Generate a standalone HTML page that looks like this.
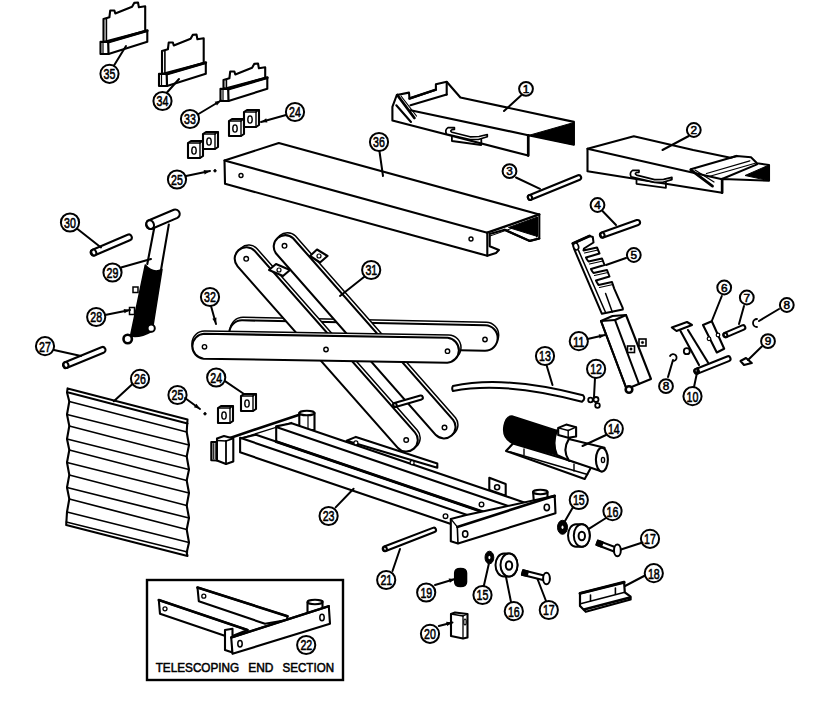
<!DOCTYPE html>
<html><head><meta charset="utf-8"><style>
html,body{margin:0;padding:0;background:#fff;}
svg{display:block;} text{-webkit-font-smoothing:antialiased;}
</style></head><body>
<svg width="831" height="716" viewBox="0 0 831 716">
<rect width="831" height="716" fill="#fff"/>
<polygon points="103.5,42.0 103.5,19.0 109.4,17.3 110.2,10.5 114.4,10.5 115.3,13.5 132.1,6.7 134.2,2.9 138.0,2.5 138.9,7.2 145.2,6.3 145.2,31.0" fill="white" stroke="#000" stroke-width="2.1" stroke-linejoin="round" />
<line x1="106.4" y1="19.0" x2="106.4" y2="42.0" stroke="#000" stroke-width="1.6" stroke-linecap="round"/>
<polygon points="100.5,41.7 108.0,42.0 147.3,30.7 147.3,41.7 108.5,54.0 100.5,54.0" fill="white" stroke="#000" stroke-width="2.1" stroke-linejoin="round" />
<line x1="108.0" y1="42.1" x2="147.3" y2="30.7" stroke="#000" stroke-width="2.8" stroke-linecap="round"/>
<line x1="108.2" y1="42.0" x2="108.5" y2="54.0" stroke="#000" stroke-width="2.2" stroke-linecap="round"/>
<line x1="103.0" y1="43.0" x2="103.0" y2="53.0" stroke="#000" stroke-width="1.2" stroke-linecap="round"/>
<polygon points="162.0,74.0 162.0,51.0 167.9,49.3 168.7,42.5 172.9,42.5 173.8,45.5 190.6,38.7 192.7,34.9 196.5,34.5 197.4,39.2 203.7,38.3 203.7,63.0" fill="white" stroke="#000" stroke-width="2.1" stroke-linejoin="round" />
<line x1="164.9" y1="51.0" x2="164.9" y2="74.0" stroke="#000" stroke-width="1.6" stroke-linecap="round"/>
<polygon points="159.0,73.7 166.5,74.0 205.8,62.7 205.8,73.7 167.0,86.0 159.0,86.0" fill="white" stroke="#000" stroke-width="2.1" stroke-linejoin="round" />
<line x1="166.5" y1="74.1" x2="205.8" y2="62.7" stroke="#000" stroke-width="2.8" stroke-linecap="round"/>
<line x1="166.7" y1="74.0" x2="167.0" y2="86.0" stroke="#000" stroke-width="2.2" stroke-linecap="round"/>
<line x1="161.5" y1="75.0" x2="161.5" y2="85.0" stroke="#000" stroke-width="1.2" stroke-linecap="round"/>
<polygon points="223.5,89.0 223.5,80.0 229.4,78.3 230.2,71.5 234.4,71.5 235.3,74.5 252.1,67.7 254.2,63.9 258.0,63.5 258.9,68.2 265.2,67.3 265.2,78.0" fill="white" stroke="#000" stroke-width="2.1" stroke-linejoin="round" />
<line x1="226.4" y1="80.0" x2="226.4" y2="89.0" stroke="#000" stroke-width="1.6" stroke-linecap="round"/>
<polygon points="220.5,88.7 228.0,89.0 267.3,77.7 267.3,88.7 228.5,101.0 220.5,101.0" fill="white" stroke="#000" stroke-width="2.1" stroke-linejoin="round" />
<line x1="228.0" y1="89.1" x2="267.3" y2="77.7" stroke="#000" stroke-width="2.8" stroke-linecap="round"/>
<line x1="228.2" y1="89.0" x2="228.5" y2="101.0" stroke="#000" stroke-width="2.2" stroke-linecap="round"/>
<line x1="223.0" y1="90.0" x2="223.0" y2="100.0" stroke="#000" stroke-width="1.2" stroke-linecap="round"/>
<circle cx="109.5" cy="73.8" r="9.1" fill="white" stroke="#000" stroke-width="2"/>
<text x="103.6" y="79.0" textLength="11.8" lengthAdjust="spacingAndGlyphs" font-family="Liberation Sans" font-size="14.8" font-weight="normal" stroke="#000" stroke-width="0.6">35</text>
<line x1="114.0" y1="65.5" x2="126.0" y2="46.0" stroke="#000" stroke-width="2" stroke-linecap="round"/>
<circle cx="162.5" cy="101.0" r="9.1" fill="white" stroke="#000" stroke-width="2"/>
<text x="156.6" y="106.3" textLength="11.8" lengthAdjust="spacingAndGlyphs" font-family="Liberation Sans" font-size="14.8" font-weight="normal" stroke="#000" stroke-width="0.6">34</text>
<line x1="167.0" y1="92.5" x2="179.0" y2="79.0" stroke="#000" stroke-width="2" stroke-linecap="round"/>
<circle cx="190.0" cy="119.0" r="9.1" fill="white" stroke="#000" stroke-width="2"/>
<text x="184.1" y="124.3" textLength="11.8" lengthAdjust="spacingAndGlyphs" font-family="Liberation Sans" font-size="14.8" font-weight="normal" stroke="#000" stroke-width="0.6">33</text>
<line x1="198.5" y1="114.0" x2="221.0" y2="100.5" stroke="#000" stroke-width="2" stroke-linecap="round"/>
<polygon points="221.0,100.5 217.0,105.5 214.7,101.7" fill="#000"/>
<polygon points="229.0,121.0 232.0,119.0 244.0,119.0 244.0,134.0 241.0,136.0 229.0,136.0" fill="white" stroke="#000" stroke-width="2.1" stroke-linejoin="round" />
<line x1="241.0" y1="121.0" x2="241.0" y2="136.0" stroke="#000" stroke-width="1.4" stroke-linecap="round"/>
<line x1="229.0" y1="121.0" x2="241.0" y2="121.0" stroke="#000" stroke-width="1.4" stroke-linecap="round"/>
<line x1="241.0" y1="121.0" x2="244.0" y2="119.0" stroke="#000" stroke-width="1.4" stroke-linecap="round"/>
<ellipse cx="235.0" cy="128.5" rx="2.2" ry="3.6" fill="white" stroke="#000" stroke-width="1.4" transform="rotate(0 235.0 128.5)"/>
<polygon points="244.0,112.0 247.0,110.0 259.0,110.0 259.0,125.0 256.0,127.0 244.0,127.0" fill="white" stroke="#000" stroke-width="2.1" stroke-linejoin="round" />
<line x1="256.0" y1="112.0" x2="256.0" y2="127.0" stroke="#000" stroke-width="1.4" stroke-linecap="round"/>
<line x1="244.0" y1="112.0" x2="256.0" y2="112.0" stroke="#000" stroke-width="1.4" stroke-linecap="round"/>
<line x1="256.0" y1="112.0" x2="259.0" y2="110.0" stroke="#000" stroke-width="1.4" stroke-linecap="round"/>
<ellipse cx="250.0" cy="119.5" rx="2.2" ry="3.6" fill="white" stroke="#000" stroke-width="1.4" transform="rotate(0 250.0 119.5)"/>
<polygon points="188.0,143.0 191.0,141.0 203.0,141.0 203.0,156.0 200.0,158.0 188.0,158.0" fill="white" stroke="#000" stroke-width="2.1" stroke-linejoin="round" />
<line x1="200.0" y1="143.0" x2="200.0" y2="158.0" stroke="#000" stroke-width="1.4" stroke-linecap="round"/>
<line x1="188.0" y1="143.0" x2="200.0" y2="143.0" stroke="#000" stroke-width="1.4" stroke-linecap="round"/>
<line x1="200.0" y1="143.0" x2="203.0" y2="141.0" stroke="#000" stroke-width="1.4" stroke-linecap="round"/>
<ellipse cx="194.0" cy="150.5" rx="2.2" ry="3.6" fill="white" stroke="#000" stroke-width="1.4" transform="rotate(0 194.0 150.5)"/>
<polygon points="203.0,134.0 206.0,132.0 218.0,132.0 218.0,147.0 215.0,149.0 203.0,149.0" fill="white" stroke="#000" stroke-width="2.1" stroke-linejoin="round" />
<line x1="215.0" y1="134.0" x2="215.0" y2="149.0" stroke="#000" stroke-width="1.4" stroke-linecap="round"/>
<line x1="203.0" y1="134.0" x2="215.0" y2="134.0" stroke="#000" stroke-width="1.4" stroke-linecap="round"/>
<line x1="215.0" y1="134.0" x2="218.0" y2="132.0" stroke="#000" stroke-width="1.4" stroke-linecap="round"/>
<ellipse cx="209.0" cy="141.5" rx="2.2" ry="3.6" fill="white" stroke="#000" stroke-width="1.4" transform="rotate(0 209.0 141.5)"/>
<circle cx="295.0" cy="112.0" r="9.1" fill="white" stroke="#000" stroke-width="2"/>
<text x="289.1" y="117.3" textLength="11.8" lengthAdjust="spacingAndGlyphs" font-family="Liberation Sans" font-size="14.8" font-weight="normal" stroke="#000" stroke-width="0.6">24</text>
<line x1="286.0" y1="115.0" x2="261.0" y2="122.0" stroke="#000" stroke-width="2" stroke-linecap="round"/>
<polygon points="261.0,122.0 266.2,118.3 267.4,122.5" fill="#000"/>
<circle cx="177.0" cy="179.5" r="9.1" fill="white" stroke="#000" stroke-width="2"/>
<text x="171.1" y="184.8" textLength="11.8" lengthAdjust="spacingAndGlyphs" font-family="Liberation Sans" font-size="14.8" font-weight="normal" stroke="#000" stroke-width="0.6">25</text>
<line x1="186.0" y1="176.0" x2="210.0" y2="171.0" stroke="#000" stroke-width="2" stroke-linecap="round"/>
<polygon points="210.0,171.0 204.6,174.4 203.7,170.1" fill="#000"/>
<circle cx="215.0" cy="170.8" r="1.2" fill="#000" stroke="#000" stroke-width="1"/>
<polygon points="224.5,160.5 278.8,143.0 539.3,214.4 539.3,238.5 529.7,240.9 504.6,229.8 489.7,234.0 489.7,246.2 498.9,250.0 496.0,253.0 487.3,255.8 225.0,183.8" fill="white" stroke="#000" stroke-width="2.1" stroke-linejoin="round" />
<line x1="224.5" y1="160.5" x2="487.3" y2="232.7" stroke="#000" stroke-width="2.1" stroke-linecap="round"/>
<line x1="487.3" y1="232.7" x2="539.3" y2="214.4" stroke="#000" stroke-width="2.4" stroke-linecap="round"/>
<line x1="490.0" y1="236.0" x2="537.0" y2="219.5" stroke="#000" stroke-width="1.0" stroke-linecap="round"/>
<line x1="487.3" y1="232.7" x2="487.3" y2="255.8" stroke="#000" stroke-width="2.1" stroke-linecap="round"/>
<polygon points="508.5,227.5 537.5,217.0 537.5,236.5" fill="#000" stroke="#000" stroke-width="1" stroke-linejoin="round" />
<line x1="504.6" y1="229.8" x2="529.7" y2="240.9" stroke="#000" stroke-width="2.2" stroke-linecap="round"/>
<line x1="529.7" y1="240.9" x2="539.3" y2="238.5" stroke="#000" stroke-width="2.2" stroke-linecap="round"/>
<line x1="536.5" y1="217.0" x2="536.5" y2="237.0" stroke="#000" stroke-width="1.0" stroke-linecap="round"/>
<circle cx="241.0" cy="175.5" r="2.0" fill="white" stroke="#000" stroke-width="1.4"/>
<circle cx="471.0" cy="239.0" r="2.0" fill="white" stroke="#000" stroke-width="1.4"/>
<circle cx="379.0" cy="142.0" r="9.1" fill="white" stroke="#000" stroke-width="2"/>
<text x="373.1" y="147.3" textLength="11.8" lengthAdjust="spacingAndGlyphs" font-family="Liberation Sans" font-size="14.8" font-weight="normal" stroke="#000" stroke-width="0.6">36</text>
<line x1="379.5" y1="151.5" x2="383.0" y2="176.0" stroke="#000" stroke-width="2" stroke-linecap="round"/>
<polygon points="392.4,106.8 396.8,95.0 409.0,92.6 409.5,98.5 435.9,89.7 435.9,84.3 446.7,81.8 460.4,97.5 573.9,121.9 573.9,144.8 528.2,135.2 528.2,155.6 392.4,120.5" fill="white" stroke="#000" stroke-width="2.1" stroke-linejoin="round" />
<line x1="410.5" y1="110.2" x2="528.2" y2="135.2" stroke="#000" stroke-width="2.1" stroke-linecap="round"/>
<polygon points="529.4,135.2 573.9,122.5 573.9,144.8" fill="#000" stroke="#000" stroke-width="1" stroke-linejoin="round" />
<line x1="409.5" y1="98.5" x2="435.9" y2="89.7" stroke="#000" stroke-width="2.4" stroke-linecap="round"/>
<line x1="410.5" y1="105.3" x2="446.7" y2="94.6" stroke="#000" stroke-width="2.1" stroke-linecap="round"/>
<line x1="446.7" y1="82.0" x2="446.7" y2="94.6" stroke="#000" stroke-width="2.1" stroke-linecap="round"/>
<line x1="397.3" y1="95.0" x2="414.4" y2="118.0" stroke="#000" stroke-width="2.8" stroke-linecap="round"/>
<line x1="401.0" y1="96.0" x2="416.5" y2="116.0" stroke="#000" stroke-width="1.2" stroke-linecap="round"/>
<line x1="396.3" y1="105.3" x2="411.0" y2="122.0" stroke="#000" stroke-width="2.1" stroke-linecap="round"/>
<line x1="528.2" y1="135.2" x2="528.2" y2="155.6" stroke="#000" stroke-width="2.6" stroke-linecap="round"/>
<path d="M454.4,127.6 L448,127.6 Q444.5,130 446.5,134 L470,139.5 L478.3,139.5 L487.3,136.8 L487.3,134.5 L479,136.5 L470,136.8 L452,132.3 Q449.5,131 452,129.7 L454.4,129.5 Z" fill="white" stroke="#000" stroke-width="1.7" stroke-linejoin="round" stroke-linecap="round"/>
<path d="M451.9,136.2 L451.9,141 L481.3,145 L481.3,139.5" fill="none" stroke="#000" stroke-width="1.8" stroke-linejoin="round" stroke-linecap="round"/>
<circle cx="526.0" cy="88.8" r="6.9" fill="white" stroke="#000" stroke-width="2"/>
<text x="526.0" y="92.8" text-anchor="middle" font-family="Liberation Sans" font-size="11.8" font-weight="normal" stroke="#000" stroke-width="0.55">1</text>
<line x1="521.0" y1="95.5" x2="504.0" y2="111.0" stroke="#000" stroke-width="2" stroke-linecap="round"/>
<polygon points="587.5,148.8 633.8,136.2 693.2,150.0 730.5,157.8 736.6,156.0 751.0,157.2 757.0,163.2 769.0,165.0 769.0,180.7 722.1,179.0 722.1,192.7 587.5,171.2" fill="white" stroke="#000" stroke-width="2.1" stroke-linejoin="round" />
<line x1="587.5" y1="148.8" x2="720.9" y2="178.9" stroke="#000" stroke-width="2.1" stroke-linecap="round"/>
<polygon points="745.0,175.5 769.0,165.0 769.0,180.7" fill="#000" stroke="#000" stroke-width="1" stroke-linejoin="round" />
<line x1="722.0" y1="179.0" x2="757.0" y2="164.4" stroke="#000" stroke-width="2.1" stroke-linecap="round"/>
<line x1="690.8" y1="169.3" x2="736.6" y2="156.0" stroke="#000" stroke-width="2.2" stroke-linecap="round"/>
<line x1="706.5" y1="173.5" x2="749.8" y2="160.8" stroke="#000" stroke-width="1.3" stroke-linecap="round"/>
<line x1="709.0" y1="176.5" x2="756.0" y2="163.0" stroke="#000" stroke-width="1.3" stroke-linecap="round"/>
<line x1="690.8" y1="169.9" x2="712.5" y2="186.1" stroke="#000" stroke-width="2.8" stroke-linecap="round"/>
<line x1="695.0" y1="170.0" x2="714.0" y2="182.0" stroke="#000" stroke-width="1.2" stroke-linecap="round"/>
<line x1="722.1" y1="179.0" x2="722.1" y2="192.7" stroke="#000" stroke-width="2.6" stroke-linecap="round"/>
<path d="M639.0,170.39999999999998 L632.6,170.39999999999998 Q629.1,172.8 631.1,176.8 L654.6,182.3 L662.9,182.3 L671.9,179.60000000000002 L671.9,177.3 L663.6,179.3 L654.6,179.60000000000002 L636.6,175.10000000000002 Q634.1,173.8 636.6,172.5 L639.0,172.3 Z" fill="white" stroke="#000" stroke-width="1.7" stroke-linejoin="round" stroke-linecap="round"/>
<path d="M636.5,179.0 L636.5,183.8 L665.9,187.8 L665.9,182.3" fill="none" stroke="#000" stroke-width="1.8" stroke-linejoin="round" stroke-linecap="round"/>
<circle cx="693.8" cy="130.0" r="6.9" fill="white" stroke="#000" stroke-width="2"/>
<text x="693.8" y="134.1" text-anchor="middle" font-family="Liberation Sans" font-size="11.8" font-weight="normal" stroke="#000" stroke-width="0.55">2</text>
<line x1="688.8" y1="136.0" x2="662.5" y2="150.0" stroke="#000" stroke-width="2" stroke-linecap="round"/>
<path d="M530.9,199.8 L579.9,179.8 A2.5,2.5 0 0 0 578.1,175.2 L529.1,195.2 A2.5,2.5 0 0 0 530.9,199.8 Z" fill="white" stroke="#000" stroke-width="2.1" stroke-linejoin="round" stroke-linecap="round"/>
<ellipse cx="530.0" cy="197.5" rx="2.0" ry="2.5" fill="white" stroke="#000" stroke-width="2.1" transform="rotate(-22.203478532057392 530.0 197.5)"/>
<circle cx="509.5" cy="171.2" r="6.9" fill="white" stroke="#000" stroke-width="2"/>
<text x="509.5" y="175.3" text-anchor="middle" font-family="Liberation Sans" font-size="11.8" font-weight="normal" stroke="#000" stroke-width="0.55">3</text>
<line x1="516.0" y1="177.5" x2="540.0" y2="188.8" stroke="#000" stroke-width="2" stroke-linecap="round"/>
<path d="M603.3,237.4 L638.3,224.9 A2.5,2.5 0 0 0 636.7,220.1 L601.7,232.6 A2.5,2.5 0 0 0 603.3,237.4 Z" fill="white" stroke="#000" stroke-width="2.1" stroke-linejoin="round" stroke-linecap="round"/>
<ellipse cx="602.5" cy="235.0" rx="2.0" ry="2.5" fill="white" stroke="#000" stroke-width="2.1" transform="rotate(-19.65382405805331 602.5 235.0)"/>
<circle cx="597.5" cy="205.0" r="6.9" fill="white" stroke="#000" stroke-width="2"/>
<text x="597.5" y="209.1" text-anchor="middle" font-family="Liberation Sans" font-size="11.8" font-weight="normal" stroke="#000" stroke-width="0.55">4</text>
<line x1="602.5" y1="211.0" x2="616.0" y2="225.0" stroke="#000" stroke-width="2" stroke-linecap="round"/>
<polygon points="574.2,249.2 572.8,243.5 589.5,236.0 592.8,237.0 593.5,242.5 584.0,248.5 583.5,250.5 597.0,247.5 599.5,253.5 586.0,257.5 587.0,259.5 588.5,261.5 602.0,258.5 604.5,265.0 591.0,269.0 592.0,271.0 593.5,273.0 607.0,270.0 609.5,276.5 596.0,280.5 597.0,282.5 598.5,285.0 612.0,282.0 614.2,288.6 622.8,308.2 622.8,309.5 601.9,313.8" fill="white" stroke="#000" stroke-width="2" stroke-linejoin="round" />
<line x1="578.5" y1="250.4" x2="605.6" y2="312.5" stroke="#000" stroke-width="1.5" stroke-linecap="round"/>
<line x1="605.6" y1="293.5" x2="612.3" y2="312.0" stroke="#000" stroke-width="1.5" stroke-linecap="round"/>
<line x1="572.8" y1="243.5" x2="589.5" y2="236.0" stroke="#000" stroke-width="3" stroke-linecap="round"/>
<ellipse cx="576.0" cy="246.5" rx="2.5" ry="3.5" fill="white" stroke="#000" stroke-width="1.6" transform="rotate(-20 576.0 246.5)"/>
<line x1="584.5" y1="253.0" x2="598.0" y2="250.0" stroke="#000" stroke-width="1.2" stroke-linecap="round"/>
<line x1="589.5" y1="264.0" x2="603.0" y2="261.0" stroke="#000" stroke-width="1.2" stroke-linecap="round"/>
<line x1="594.5" y1="275.5" x2="608.0" y2="272.5" stroke="#000" stroke-width="1.2" stroke-linecap="round"/>
<line x1="599.5" y1="287.5" x2="613.0" y2="284.5" stroke="#000" stroke-width="1.2" stroke-linecap="round"/>
<circle cx="633.8" cy="255.0" r="6.9" fill="white" stroke="#000" stroke-width="2"/>
<text x="633.8" y="259.1" text-anchor="middle" font-family="Liberation Sans" font-size="11.8" font-weight="normal" stroke="#000" stroke-width="0.55">5</text>
<line x1="626.0" y1="258.0" x2="606.0" y2="265.0" stroke="#000" stroke-width="2" stroke-linecap="round"/>
<polygon points="601.0,321.0 612.5,316.0 626.0,315.0 651.0,379.0 629.0,388.0 626.0,387.5" fill="white" stroke="#000" stroke-width="2.1" stroke-linejoin="round" />
<line x1="601.0" y1="321.0" x2="615.0" y2="320.0" stroke="#000" stroke-width="2.1" stroke-linecap="round"/>
<line x1="615.0" y1="320.0" x2="626.0" y2="315.0" stroke="#000" stroke-width="2.1" stroke-linecap="round"/>
<line x1="615.0" y1="320.0" x2="639.0" y2="384.0" stroke="#000" stroke-width="2.1" stroke-linecap="round"/>
<line x1="601.0" y1="321.0" x2="626.0" y2="387.5" stroke="#000" stroke-width="2.1" stroke-linecap="round"/>
<circle cx="629.0" cy="389.5" r="3.3" fill="white" stroke="#000" stroke-width="2.6"/>
<rect x="627.5" y="346" width="7" height="6.5" fill="white" stroke="#000" stroke-width="1.6"/>
<rect x="639" y="339" width="7" height="7" fill="white" stroke="#000" stroke-width="1.6"/>
<circle cx="631.0" cy="349.0" r="1.2" fill="#000" stroke="#000" stroke-width="0.5"/>
<circle cx="642.5" cy="342.5" r="1.2" fill="#000" stroke="#000" stroke-width="0.5"/>
<circle cx="578.8" cy="341.2" r="9.1" fill="white" stroke="#000" stroke-width="2"/>
<text x="572.9" y="346.6" textLength="11.8" lengthAdjust="spacingAndGlyphs" font-family="Liberation Sans" font-size="14.8" font-weight="normal" stroke="#000" stroke-width="0.6">11</text>
<line x1="587.5" y1="339.0" x2="605.0" y2="335.0" stroke="#000" stroke-width="2" stroke-linecap="round"/>
<polygon points="605.0,335.0 599.6,338.5 598.7,334.2" fill="#000"/>
<path d="M452.9,385.9 Q505,375 583,395.3 Q586,398.5 582,401.8 Q505,381 452.9,390.9 Q451.5,388.4 452.9,385.9 Z" fill="white" stroke="#000" stroke-width="2" stroke-linejoin="round" stroke-linecap="round"/>
<circle cx="545.0" cy="356.0" r="9.1" fill="white" stroke="#000" stroke-width="2"/>
<text x="539.1" y="361.3" textLength="11.8" lengthAdjust="spacingAndGlyphs" font-family="Liberation Sans" font-size="14.8" font-weight="normal" stroke="#000" stroke-width="0.6">13</text>
<line x1="546.5" y1="365.0" x2="552.5" y2="385.0" stroke="#000" stroke-width="2" stroke-linecap="round"/>
<circle cx="590.5" cy="400.0" r="2.3" fill="white" stroke="#000" stroke-width="1.8"/>
<circle cx="596.0" cy="399.5" r="2.5" fill="white" stroke="#000" stroke-width="1.8"/>
<circle cx="597.5" cy="405.5" r="2.3" fill="white" stroke="#000" stroke-width="1.8"/>
<circle cx="596.1" cy="368.9" r="9.1" fill="white" stroke="#000" stroke-width="2"/>
<text x="590.2" y="374.2" textLength="11.8" lengthAdjust="spacingAndGlyphs" font-family="Liberation Sans" font-size="14.8" font-weight="normal" stroke="#000" stroke-width="0.6">12</text>
<line x1="595.0" y1="378.0" x2="594.0" y2="397.0" stroke="#000" stroke-width="2" stroke-linecap="round"/>
<polygon points="703.0,325.0 711.8,321.2 724.2,348.8 716.8,352.5" fill="white" stroke="#000" stroke-width="2.1" stroke-linejoin="round" />
<circle cx="709.0" cy="338.8" r="1.8" fill="white" stroke="#000" stroke-width="1.2"/>
<circle cx="718.0" cy="335.0" r="1.8" fill="white" stroke="#000" stroke-width="1.2"/>
<circle cx="724.2" cy="287.5" r="6.9" fill="white" stroke="#000" stroke-width="2"/>
<text x="724.2" y="291.6" text-anchor="middle" font-family="Liberation Sans" font-size="11.8" font-weight="normal" stroke="#000" stroke-width="0.55">6</text>
<line x1="721.8" y1="296.0" x2="711.8" y2="321.0" stroke="#000" stroke-width="2" stroke-linecap="round"/>
<path d="M726.4,337.1 L743.9,329.6 A2.25,2.25 0 0 0 742.1,325.4 L724.6,332.9 A2.25,2.25 0 0 0 726.4,337.1 Z" fill="white" stroke="#000" stroke-width="2.1" stroke-linejoin="round" stroke-linecap="round"/>
<ellipse cx="725.5" cy="335.0" rx="1.8" ry="2.2" fill="white" stroke="#000" stroke-width="2.1" transform="rotate(-23.19859051364819 725.5 335.0)"/>
<circle cx="746.8" cy="297.5" r="6.9" fill="white" stroke="#000" stroke-width="2"/>
<text x="746.8" y="301.6" text-anchor="middle" font-family="Liberation Sans" font-size="11.8" font-weight="normal" stroke="#000" stroke-width="0.55">7</text>
<line x1="744.0" y1="306.0" x2="739.0" y2="324.0" stroke="#000" stroke-width="2" stroke-linecap="round"/>
<path d="M757,319 A3,3 0 1 0 757,327" fill="none" stroke="#000" stroke-width="1.8" stroke-linejoin="round" stroke-linecap="round"/>
<circle cx="786.8" cy="305.0" r="6.9" fill="white" stroke="#000" stroke-width="2"/>
<text x="786.8" y="309.1" text-anchor="middle" font-family="Liberation Sans" font-size="11.8" font-weight="normal" stroke="#000" stroke-width="0.55">8</text>
<line x1="779.0" y1="309.0" x2="759.0" y2="321.0" stroke="#000" stroke-width="2" stroke-linecap="round"/>
<polygon points="740.5,361.0 746.0,358.0 751.8,363.0 744.0,365.0" fill="white" stroke="#000" stroke-width="2.1" stroke-linejoin="round" />
<circle cx="768.0" cy="341.2" r="6.9" fill="white" stroke="#000" stroke-width="2"/>
<text x="768.0" y="345.4" text-anchor="middle" font-family="Liberation Sans" font-size="11.8" font-weight="normal" stroke="#000" stroke-width="0.55">9</text>
<line x1="761.8" y1="346.5" x2="748.0" y2="360.0" stroke="#000" stroke-width="2" stroke-linecap="round"/>
<polygon points="671.8,327.5 687.0,322.0 692.0,325.0 676.5,331.0" fill="white" stroke="#000" stroke-width="2.1" stroke-linejoin="round" />
<line x1="680.5" y1="331.0" x2="699.0" y2="365.0" stroke="#000" stroke-width="2.1" stroke-linecap="round"/>
<line x1="688.0" y1="330.0" x2="708.0" y2="362.5" stroke="#000" stroke-width="2.1" stroke-linecap="round"/>
<path d="M697.7,373.6 L728.9,361.1 A2.5,2.5 0 0 0 727.1,356.4 L695.8,368.9 A2.5,2.5 0 0 0 697.7,373.6 Z" fill="white" stroke="#000" stroke-width="2.1" stroke-linejoin="round" stroke-linecap="round"/>
<ellipse cx="696.8" cy="371.2" rx="2.0" ry="2.5" fill="white" stroke="#000" stroke-width="2.1" transform="rotate(-21.80140948635181 696.8 371.2)"/>
<circle cx="686.8" cy="351.2" r="3.0" fill="white" stroke="#000" stroke-width="1.8"/>
<path d="M674,361 A3.5,3.5 0 1 0 670,356" fill="none" stroke="#000" stroke-width="1.8" stroke-linejoin="round" stroke-linecap="round"/>
<circle cx="666.0" cy="386.2" r="6.9" fill="white" stroke="#000" stroke-width="2"/>
<text x="666.0" y="390.4" text-anchor="middle" font-family="Liberation Sans" font-size="11.8" font-weight="normal" stroke="#000" stroke-width="0.55">8</text>
<line x1="668.0" y1="377.0" x2="673.0" y2="360.0" stroke="#000" stroke-width="2" stroke-linecap="round"/>
<circle cx="692.5" cy="396.2" r="9.1" fill="white" stroke="#000" stroke-width="2"/>
<text x="686.6" y="401.6" textLength="11.8" lengthAdjust="spacingAndGlyphs" font-family="Liberation Sans" font-size="14.8" font-weight="normal" stroke="#000" stroke-width="0.6">10</text>
<line x1="694.0" y1="387.0" x2="698.0" y2="368.0" stroke="#000" stroke-width="2" stroke-linecap="round"/>
<path d="M94.9,255.3 L129.9,240.3 A3.0,3.0 0 0 0 127.6,234.7 L92.6,249.7 A3.0,3.0 0 0 0 94.9,255.3 Z" fill="white" stroke="#000" stroke-width="2.1" stroke-linejoin="round" stroke-linecap="round"/>
<ellipse cx="93.8" cy="252.5" rx="2.4" ry="3.0" fill="white" stroke="#000" stroke-width="2.1" transform="rotate(-23.19859051364819 93.8 252.5)"/>
<circle cx="70.0" cy="222.5" r="9.1" fill="white" stroke="#000" stroke-width="2"/>
<text x="64.1" y="227.8" textLength="11.8" lengthAdjust="spacingAndGlyphs" font-family="Liberation Sans" font-size="14.8" font-weight="normal" stroke="#000" stroke-width="0.6">30</text>
<line x1="77.5" y1="229.0" x2="101.0" y2="247.5" stroke="#000" stroke-width="2" stroke-linecap="round"/>
<path d="M154.1,228.5 L147.3,264 M168.8,224.6 L161,270" fill="none" stroke="#000" stroke-width="2.1" stroke-linejoin="round" stroke-linecap="round"/>
<path d="M152.0,228.7 L177.4,217.9 A4.5,4.5 0 0 0 173.8,209.7 L148.4,220.5 A4.5,4.5 0 0 0 152.0,228.7 Z" fill="white" stroke="#000" stroke-width="2.1" stroke-linejoin="round" stroke-linecap="round"/>
<ellipse cx="150.2" cy="224.6" rx="3.6" ry="4.5" fill="white" stroke="#000" stroke-width="2.1" transform="rotate(-23.035044489185253 150.2 224.6)"/>
<path d="M145.3,265 Q153,274 162,269.5 L152.2,331 Q140,338 130.5,336 Z" fill="#000" stroke="#000" stroke-width="1.5" stroke-linejoin="round" stroke-linecap="round"/>
<circle cx="127.7" cy="339.0" r="4.2" fill="white" stroke="#000" stroke-width="2.6"/>
<circle cx="151.2" cy="328.2" r="3.6" fill="white" stroke="#000" stroke-width="2"/>
<rect x="133" y="287" width="5" height="5.5" fill="white" stroke="#000" stroke-width="1.5"/>
<rect x="129.5" y="307.5" width="5" height="7" fill="white" stroke="#000" stroke-width="1.5"/>
<circle cx="112.5" cy="272.5" r="9.1" fill="white" stroke="#000" stroke-width="2"/>
<text x="106.6" y="277.8" textLength="11.8" lengthAdjust="spacingAndGlyphs" font-family="Liberation Sans" font-size="14.8" font-weight="normal" stroke="#000" stroke-width="0.6">29</text>
<line x1="121.0" y1="267.5" x2="151.0" y2="259.0" stroke="#000" stroke-width="2" stroke-linecap="round"/>
<circle cx="96.2" cy="317.0" r="9.1" fill="white" stroke="#000" stroke-width="2"/>
<text x="90.3" y="322.3" textLength="11.8" lengthAdjust="spacingAndGlyphs" font-family="Liberation Sans" font-size="14.8" font-weight="normal" stroke="#000" stroke-width="0.6">28</text>
<line x1="105.0" y1="315.0" x2="130.0" y2="310.0" stroke="#000" stroke-width="2" stroke-linecap="round"/>
<polygon points="130.0,310.0 124.5,313.3 123.7,309.0" fill="#000"/>
<path d="M67.1,367.8 L103.6,352.8 A3.0,3.0 0 0 0 101.4,347.2 L64.9,362.2 A3.0,3.0 0 0 0 67.1,367.8 Z" fill="white" stroke="#000" stroke-width="2.1" stroke-linejoin="round" stroke-linecap="round"/>
<ellipse cx="66.0" cy="365.0" rx="2.4" ry="3.0" fill="white" stroke="#000" stroke-width="2.1" transform="rotate(-22.34064795999414 66.0 365.0)"/>
<circle cx="45.0" cy="346.2" r="9.1" fill="white" stroke="#000" stroke-width="2"/>
<text x="39.1" y="351.6" textLength="11.8" lengthAdjust="spacingAndGlyphs" font-family="Liberation Sans" font-size="14.8" font-weight="normal" stroke="#000" stroke-width="0.6">27</text>
<line x1="54.0" y1="350.0" x2="81.0" y2="356.0" stroke="#000" stroke-width="2" stroke-linecap="round"/>
<polygon points="489.3,477.8 505.7,484.0 505.7,495.8 489.3,490.0" fill="white" stroke="#000" stroke-width="2.1" stroke-linejoin="round" />
<circle cx="497.1" cy="487.2" r="2.5" fill="white" stroke="#000" stroke-width="1.6"/>
<polygon points="299.3,413.0 314.5,413.0 314.5,430.0 299.3,430.0" fill="white" stroke="#000" stroke-width="2.1" stroke-linejoin="round" />
<ellipse cx="306.9" cy="413.0" rx="7.6" ry="2.3" fill="white" stroke="#000" stroke-width="2.1" transform="rotate(0 306.9 413.0)"/>
<line x1="308.0" y1="415.0" x2="308.0" y2="429.0" stroke="#000" stroke-width="1.2" stroke-linecap="round"/>
<line x1="230.0" y1="437.9" x2="299.3" y2="414.8" stroke="#000" stroke-width="2.6" stroke-linecap="round"/>
<line x1="242.5" y1="437.9" x2="291.6" y2="422.5" stroke="#000" stroke-width="1.3" stroke-linecap="round"/>
<polygon points="240.1,438.4 256.0,434.7 492.0,515.0 471.0,516.3 451.0,524.0 240.1,452.3" fill="white" stroke="#000" stroke-width="2.1" stroke-linejoin="round" />
<line x1="240.1" y1="437.8" x2="471.0" y2="516.3" stroke="#000" stroke-width="2.1" stroke-linecap="round"/>
<circle cx="445.5" cy="516.2" r="2.3" fill="white" stroke="#000" stroke-width="1.4"/>
<polygon points="276.2,426.4 291.6,423.3 525.0,502.7 525.0,505.7 509.0,506.3 492.0,515.0 276.2,441.6" fill="white" stroke="#000" stroke-width="2.1" stroke-linejoin="round" />
<line x1="276.2" y1="427.1" x2="509.0" y2="506.3" stroke="#000" stroke-width="2.1" stroke-linecap="round"/>
<line x1="276.2" y1="441.6" x2="492.0" y2="515.0" stroke="#000" stroke-width="3" stroke-linecap="round"/>
<circle cx="481.5" cy="504.4" r="2.3" fill="white" stroke="#000" stroke-width="1.4"/>
<polygon points="346.6,440.8 355.9,436.9 437.3,463.5 437.3,467.8" fill="white" stroke="#000" stroke-width="2.1" stroke-linejoin="round" />
<circle cx="355.9" cy="442.9" r="2.0" fill="white" stroke="#000" stroke-width="1.2"/>
<circle cx="412.1" cy="462.7" r="2.0" fill="white" stroke="#000" stroke-width="1.2"/>
<polygon points="211.3,442.0 217.0,442.0 217.0,438.5 224.0,436.0 233.3,438.5 233.3,461.5 226.0,464.0 217.0,460.5 211.3,460.2" fill="white" stroke="#000" stroke-width="2.1" stroke-linejoin="round" />
<line x1="217.0" y1="440.5" x2="226.0" y2="441.0" stroke="#000" stroke-width="1.6" stroke-linecap="round"/>
<line x1="226.0" y1="441.0" x2="233.3" y2="438.5" stroke="#000" stroke-width="1.6" stroke-linecap="round"/>
<line x1="226.0" y1="441.0" x2="226.0" y2="464.0" stroke="#000" stroke-width="1.8" stroke-linecap="round"/>
<line x1="217.0" y1="442.0" x2="217.0" y2="460.5" stroke="#000" stroke-width="2" stroke-linecap="round"/>
<line x1="213.3" y1="443.5" x2="213.3" y2="459.0" stroke="#000" stroke-width="1.1" stroke-linecap="round"/>
<line x1="215.2" y1="443.5" x2="215.2" y2="459.0" stroke="#000" stroke-width="1.1" stroke-linecap="round"/>
<polygon points="533.1,492.0 547.5,492.0 547.5,500.0 533.8,501.0" fill="white" stroke="#000" stroke-width="2.1" stroke-linejoin="round" />
<ellipse cx="540.3" cy="492.0" rx="7.2" ry="2.2" fill="white" stroke="#000" stroke-width="2.1" transform="rotate(0 540.3 492.0)"/>
<polygon points="450.8,518.9 465.2,515.3 554.7,495.8 555.5,513.2 458.0,543.5 450.8,541.3" fill="white" stroke="#000" stroke-width="2.1" stroke-linejoin="round" />
<line x1="457.3" y1="526.9" x2="554.7" y2="495.8" stroke="#000" stroke-width="2.6" stroke-linecap="round"/>
<line x1="457.3" y1="526.9" x2="458.0" y2="543.5" stroke="#000" stroke-width="1.6" stroke-linecap="round"/>
<line x1="450.8" y1="518.9" x2="457.3" y2="526.9" stroke="#000" stroke-width="1.4" stroke-linecap="round"/>
<ellipse cx="465.2" cy="534.1" rx="2.6" ry="3.2" fill="white" stroke="#000" stroke-width="1.6" transform="rotate(0 465.2 534.1)"/>
<ellipse cx="546.8" cy="507.4" rx="2.6" ry="3.2" fill="white" stroke="#000" stroke-width="1.6" transform="rotate(0 546.8 507.4)"/>
<circle cx="328.6" cy="516.0" r="9.1" fill="white" stroke="#000" stroke-width="2"/>
<text x="322.7" y="521.3" textLength="11.8" lengthAdjust="spacingAndGlyphs" font-family="Liberation Sans" font-size="14.8" font-weight="normal" stroke="#000" stroke-width="0.6">23</text>
<line x1="335.6" y1="507.4" x2="353.6" y2="488.7" stroke="#000" stroke-width="2" stroke-linecap="round"/>
<path d="M385.8,550.9 L434.6,532.1 A2.25,2.25 0 0 0 432.9,527.9 L384.2,546.6 A2.25,2.25 0 0 0 385.8,550.9 Z" fill="white" stroke="#000" stroke-width="2.1" stroke-linejoin="round" stroke-linecap="round"/>
<ellipse cx="385.0" cy="548.8" rx="1.8" ry="2.2" fill="white" stroke="#000" stroke-width="2.1" transform="rotate(-21.037511025421818 385.0 548.8)"/>
<circle cx="386.2" cy="580.0" r="9.1" fill="white" stroke="#000" stroke-width="2"/>
<text x="380.4" y="585.3" textLength="11.8" lengthAdjust="spacingAndGlyphs" font-family="Liberation Sans" font-size="14.8" font-weight="normal" stroke="#000" stroke-width="0.6">21</text>
<line x1="392.5" y1="571.0" x2="400.0" y2="549.0" stroke="#000" stroke-width="2" stroke-linecap="round"/>
<path d="M242.7,342.7 L485.7,347.7 A12.7,12.7 0 0 0 486.3,322.3 L243.3,317.3 A12.7,12.7 0 0 0 242.7,342.7 Z" fill="white" stroke="#000" stroke-width="1.5" stroke-linejoin="round" stroke-linecap="round"/>
<path d="M241.7,345.7 L484.7,350.7 A12.7,12.7 0 0 0 485.3,325.3 L242.3,320.3 A12.7,12.7 0 0 0 241.7,345.7 Z" fill="white" stroke="#000" stroke-width="2.1" stroke-linejoin="round" stroke-linecap="round"/>
<circle cx="485.0" cy="339.5" r="2.2" fill="white" stroke="#000" stroke-width="1.4"/>
<path d="M240.0,264.2 L400.0,445.5 A11.5,11.5 0 0 0 417.3,430.3 L257.3,249.0 A11.5,11.5 0 0 0 240.0,264.2 Z" fill="white" stroke="#000" stroke-width="1.5" stroke-linejoin="round" stroke-linecap="round"/>
<path d="M237.6,266.4 L397.6,447.6 A11.5,11.5 0 0 0 414.9,432.4 L254.9,251.1 A11.5,11.5 0 0 0 237.6,266.4 Z" fill="white" stroke="#000" stroke-width="2.1" stroke-linejoin="round" stroke-linecap="round"/>
<circle cx="246.2" cy="258.8" r="2.3" fill="white" stroke="#000" stroke-width="1.4"/>
<circle cx="406.2" cy="440.0" r="2.3" fill="white" stroke="#000" stroke-width="1.4"/>
<path d="M278.3,251.2 L438.3,433.0 A11.5,11.5 0 0 0 455.5,417.8 L295.5,236.0 A11.5,11.5 0 0 0 278.3,251.2 Z" fill="white" stroke="#000" stroke-width="1.5" stroke-linejoin="round" stroke-linecap="round"/>
<path d="M275.9,253.3 L435.9,435.1 A11.5,11.5 0 0 0 453.1,419.9 L293.1,238.2 A11.5,11.5 0 0 0 275.9,253.3 Z" fill="white" stroke="#000" stroke-width="2.1" stroke-linejoin="round" stroke-linecap="round"/>
<circle cx="284.5" cy="245.8" r="2.3" fill="white" stroke="#000" stroke-width="1.4"/>
<circle cx="444.5" cy="427.5" r="2.3" fill="white" stroke="#000" stroke-width="1.4"/>
<polygon points="269.0,270.0 276.0,264.0 290.0,270.0 283.0,276.0" fill="white" stroke="#000" stroke-width="2.1" stroke-linejoin="round" />
<circle cx="279.0" cy="270.0" r="2.0" fill="white" stroke="#000" stroke-width="1.2"/>
<polygon points="310.0,256.0 317.0,249.5 327.5,256.0 320.0,262.5" fill="white" stroke="#000" stroke-width="2.1" stroke-linejoin="round" />
<circle cx="319.0" cy="256.0" r="2.0" fill="white" stroke="#000" stroke-width="1.2"/>
<path d="M395.6,406.9 L421.6,399.4 A2.0,2.0 0 0 0 420.4,395.6 L394.4,403.1 A2.0,2.0 0 0 0 395.6,406.9 Z" fill="white" stroke="#000" stroke-width="2.1" stroke-linejoin="round" stroke-linecap="round"/>
<ellipse cx="395.0" cy="405.0" rx="1.6" ry="2.0" fill="white" stroke="#000" stroke-width="2.1" transform="rotate(-16.090816348852172 395.0 405.0)"/>
<circle cx="371.2" cy="270.0" r="9.1" fill="white" stroke="#000" stroke-width="2"/>
<text x="365.4" y="275.3" textLength="11.8" lengthAdjust="spacingAndGlyphs" font-family="Liberation Sans" font-size="14.8" font-weight="normal" stroke="#000" stroke-width="0.6">31</text>
<line x1="364.0" y1="277.0" x2="340.0" y2="296.0" stroke="#000" stroke-width="2" stroke-linecap="round"/>
<path d="M204.3,356.0 L448.3,360.0 A12.5,12.5 0 0 0 448.7,335.0 L204.7,331.0 A12.5,12.5 0 0 0 204.3,356.0 Z" fill="white" stroke="#000" stroke-width="1.5" stroke-linejoin="round" stroke-linecap="round"/>
<path d="M203.5,358.7 L447.3,362.7 A12.5,12.5 0 0 0 447.7,337.8 L204.0,333.8 A12.5,12.5 0 0 0 203.5,358.7 Z" fill="white" stroke="#000" stroke-width="2.1" stroke-linejoin="round" stroke-linecap="round"/>
<circle cx="204.5" cy="346.8" r="2.2" fill="white" stroke="#000" stroke-width="1.4"/>
<circle cx="326.0" cy="349.5" r="2.2" fill="white" stroke="#000" stroke-width="1.4"/>
<circle cx="447.5" cy="351.2" r="2.2" fill="white" stroke="#000" stroke-width="1.4"/>
<circle cx="210.0" cy="297.0" r="9.1" fill="white" stroke="#000" stroke-width="2"/>
<text x="204.1" y="302.3" textLength="11.8" lengthAdjust="spacingAndGlyphs" font-family="Liberation Sans" font-size="14.8" font-weight="normal" stroke="#000" stroke-width="0.6">32</text>
<line x1="211.0" y1="306.0" x2="216.0" y2="324.0" stroke="#000" stroke-width="2" stroke-linecap="round"/>
<polygon points="216.0,324.0 212.3,318.8 216.5,317.6" fill="#000"/>
<polygon points="67.6,388.4 187.5,419.5 186.7,432.0 189.0,445.0 186.7,456.5 189.0,469.5 186.7,480.5 189.0,493.0 186.7,505.5 189.0,518.0 186.7,529.5 189.0,542.5 186.7,552.5 187.5,556.0 66.2,525.0 67.0,512.0 69.3,499.0 67.0,487.5 69.3,475.0 67.0,462.5 69.3,450.0 67.0,439.0 69.3,426.0 67.0,414.5 69.3,401.5 67.0,392.6" fill="white" stroke="#000" stroke-width="2.1" stroke-linejoin="round" />
<line x1="68.4" y1="392.6" x2="187.5" y2="423.5" stroke="#000" stroke-width="2.1" stroke-linecap="round"/>
<line x1="69.3" y1="401.5" x2="186.7" y2="432.0" stroke="#000" stroke-width="1.7" stroke-linecap="round"/>
<line x1="67.0" y1="414.5" x2="189.0" y2="445.0" stroke="#000" stroke-width="1.7" stroke-linecap="round"/>
<line x1="69.3" y1="426.0" x2="186.7" y2="456.5" stroke="#000" stroke-width="1.7" stroke-linecap="round"/>
<line x1="67.0" y1="439.0" x2="189.0" y2="469.5" stroke="#000" stroke-width="1.7" stroke-linecap="round"/>
<line x1="69.3" y1="450.0" x2="186.7" y2="480.5" stroke="#000" stroke-width="1.7" stroke-linecap="round"/>
<line x1="67.0" y1="462.5" x2="189.0" y2="493.0" stroke="#000" stroke-width="1.7" stroke-linecap="round"/>
<line x1="69.3" y1="475.0" x2="186.7" y2="505.5" stroke="#000" stroke-width="1.7" stroke-linecap="round"/>
<line x1="67.0" y1="487.5" x2="189.0" y2="518.0" stroke="#000" stroke-width="1.7" stroke-linecap="round"/>
<line x1="69.3" y1="499.0" x2="186.7" y2="529.5" stroke="#000" stroke-width="1.7" stroke-linecap="round"/>
<line x1="67.0" y1="512.0" x2="189.0" y2="542.5" stroke="#000" stroke-width="1.7" stroke-linecap="round"/>
<line x1="66.2" y1="522.0" x2="187.5" y2="552.0" stroke="#000" stroke-width="1.5" stroke-linecap="round"/>
<circle cx="140.0" cy="378.8" r="9.1" fill="white" stroke="#000" stroke-width="2"/>
<text x="134.1" y="384.1" textLength="11.8" lengthAdjust="spacingAndGlyphs" font-family="Liberation Sans" font-size="14.8" font-weight="normal" stroke="#000" stroke-width="0.6">26</text>
<line x1="132.5" y1="384.0" x2="113.8" y2="401.2" stroke="#000" stroke-width="2" stroke-linecap="round"/>
<polygon points="218.0,408.0 221.0,406.0 233.0,406.0 233.0,421.0 230.0,423.0 218.0,423.0" fill="white" stroke="#000" stroke-width="2.1" stroke-linejoin="round" />
<line x1="230.0" y1="408.0" x2="230.0" y2="423.0" stroke="#000" stroke-width="1.4" stroke-linecap="round"/>
<line x1="218.0" y1="408.0" x2="230.0" y2="408.0" stroke="#000" stroke-width="1.4" stroke-linecap="round"/>
<line x1="230.0" y1="408.0" x2="233.0" y2="406.0" stroke="#000" stroke-width="1.4" stroke-linecap="round"/>
<ellipse cx="224.0" cy="415.5" rx="2.2" ry="3.6" fill="white" stroke="#000" stroke-width="1.4" transform="rotate(0 224.0 415.5)"/>
<polygon points="241.0,396.0 244.0,394.0 256.0,394.0 256.0,409.0 253.0,411.0 241.0,411.0" fill="white" stroke="#000" stroke-width="2.1" stroke-linejoin="round" />
<line x1="253.0" y1="396.0" x2="253.0" y2="411.0" stroke="#000" stroke-width="1.4" stroke-linecap="round"/>
<line x1="241.0" y1="396.0" x2="253.0" y2="396.0" stroke="#000" stroke-width="1.4" stroke-linecap="round"/>
<line x1="253.0" y1="396.0" x2="256.0" y2="394.0" stroke="#000" stroke-width="1.4" stroke-linecap="round"/>
<ellipse cx="247.0" cy="403.5" rx="2.2" ry="3.6" fill="white" stroke="#000" stroke-width="1.4" transform="rotate(0 247.0 403.5)"/>
<circle cx="177.5" cy="395.0" r="9.1" fill="white" stroke="#000" stroke-width="2"/>
<text x="171.6" y="400.3" textLength="11.8" lengthAdjust="spacingAndGlyphs" font-family="Liberation Sans" font-size="14.8" font-weight="normal" stroke="#000" stroke-width="0.6">25</text>
<line x1="185.0" y1="398.0" x2="200.0" y2="409.0" stroke="#000" stroke-width="2" stroke-linecap="round"/>
<polygon points="200.0,409.0 193.9,407.2 196.5,403.7" fill="#000"/>
<circle cx="205.0" cy="413.8" r="1.2" fill="#000" stroke="#000" stroke-width="1"/>
<circle cx="216.2" cy="377.5" r="9.1" fill="white" stroke="#000" stroke-width="2"/>
<text x="210.3" y="382.8" textLength="11.8" lengthAdjust="spacingAndGlyphs" font-family="Liberation Sans" font-size="14.8" font-weight="normal" stroke="#000" stroke-width="0.6">24</text>
<line x1="225.0" y1="381.2" x2="244.0" y2="394.0" stroke="#000" stroke-width="2" stroke-linecap="round"/>
<polygon points="506.0,451.0 513.0,443.5 591.3,467.0 584.7,479.0" fill="white" stroke="#000" stroke-width="2.1" stroke-linejoin="round" />
<line x1="510.5" y1="452.0" x2="587.5" y2="474.5" stroke="#000" stroke-width="1.6" stroke-linecap="round"/>
<line x1="524.0" y1="449.0" x2="524.0" y2="455.0" stroke="#000" stroke-width="1.4" stroke-linecap="round"/>
<line x1="574.0" y1="464.0" x2="574.0" y2="471.0" stroke="#000" stroke-width="1.4" stroke-linecap="round"/>
<path d="M511.9,416 L556.9,430.5 L556.9,455 L511.9,443 Q502,438 504,426 Q506,416 511.9,416 Z" fill="#000" stroke="#000" stroke-width="1.5" stroke-linejoin="round" stroke-linecap="round"/>
<path d="M556.9,430.5 L570,437 L570,461 L556.9,455 Q552,443 556.9,430.5 Z" fill="white" stroke="#000" stroke-width="2.1" stroke-linejoin="round" stroke-linecap="round"/>
<path d="M568.8,439.1 L604.6,447.8 L601.9,471.5 L568.8,460.3 Q562,450 568.8,439.1 Z" fill="white" stroke="#000" stroke-width="2.1" stroke-linejoin="round" stroke-linecap="round"/>
<ellipse cx="601.9" cy="459.6" rx="6.0" ry="11.9" fill="white" stroke="#000" stroke-width="2.1" transform="rotate(0 601.9 459.6)"/>
<ellipse cx="603.0" cy="460.0" rx="1.6" ry="2.6" fill="white" stroke="#000" stroke-width="1.4" transform="rotate(0 603.0 460.0)"/>
<polygon points="558.2,427.9 566.2,424.6 576.1,427.2 576.1,436.5 568.2,437.8 558.2,435.0" fill="white" stroke="#000" stroke-width="2.1" stroke-linejoin="round" />
<line x1="558.2" y1="427.9" x2="568.2" y2="430.5" stroke="#000" stroke-width="1.4" stroke-linecap="round"/>
<line x1="568.2" y1="430.5" x2="576.1" y2="427.2" stroke="#000" stroke-width="1.4" stroke-linecap="round"/>
<line x1="568.2" y1="430.5" x2="568.2" y2="437.8" stroke="#000" stroke-width="1.4" stroke-linecap="round"/>
<circle cx="613.8" cy="428.8" r="9.1" fill="white" stroke="#000" stroke-width="2"/>
<text x="607.9" y="434.1" textLength="11.8" lengthAdjust="spacingAndGlyphs" font-family="Liberation Sans" font-size="14.8" font-weight="normal" stroke="#000" stroke-width="0.6">14</text>
<line x1="606.0" y1="435.0" x2="582.5" y2="446.0" stroke="#000" stroke-width="2" stroke-linecap="round"/>
<ellipse cx="562.5" cy="527.3" rx="5.0" ry="7.0" fill="#000" stroke="#000" stroke-width="1" transform="rotate(0 562.5 527.3)"/>
<ellipse cx="562.5" cy="527.3" rx="1.0" ry="1.8" fill="#fff" stroke="#000" stroke-width="0" transform="rotate(0 562.5 527.3)"/>
<path d="M576.0,524.2 L581.8,524.2 A8,11.3 0 0 1 581.8,546.8 L576.0,546.8 A8,11.3 0 0 1 576.0,524.2 Z" fill="white" stroke="#000" stroke-width="2" stroke-linejoin="round" stroke-linecap="round"/>
<ellipse cx="581.8" cy="535.5" rx="8.0" ry="11.3" fill="white" stroke="#000" stroke-width="2" transform="rotate(0 581.8 535.5)"/>
<ellipse cx="581.8" cy="536.0" rx="3.2" ry="4.3" fill="white" stroke="#000" stroke-width="2" transform="rotate(0 581.8 536.0)"/>
<circle cx="578.8" cy="500.0" r="9.1" fill="white" stroke="#000" stroke-width="2"/>
<text x="572.9" y="505.3" textLength="11.8" lengthAdjust="spacingAndGlyphs" font-family="Liberation Sans" font-size="14.8" font-weight="normal" stroke="#000" stroke-width="0.6">15</text>
<line x1="572.5" y1="508.0" x2="565.0" y2="521.0" stroke="#000" stroke-width="2" stroke-linecap="round"/>
<circle cx="612.5" cy="511.2" r="9.1" fill="white" stroke="#000" stroke-width="2"/>
<text x="606.6" y="516.5" textLength="11.8" lengthAdjust="spacingAndGlyphs" font-family="Liberation Sans" font-size="14.8" font-weight="normal" stroke="#000" stroke-width="0.6">16</text>
<line x1="606.0" y1="518.0" x2="588.8" y2="528.8" stroke="#000" stroke-width="2" stroke-linecap="round"/>
<polygon points="596.4,544.8 616.6,552.5 618.2,548.3 598.0,540.6" fill="white" stroke="#000" stroke-width="2" stroke-linejoin="round" />
<polygon points="596.4,544.8 601.1,546.6 602.7,542.3 598.0,540.6" fill="#000" stroke="#000" stroke-width="2" stroke-linejoin="round" />
<ellipse cx="617.4" cy="550.4" rx="3.4" ry="5.8" fill="white" stroke="#000" stroke-width="2" transform="rotate(0 617.4 550.4)"/>
<circle cx="650.0" cy="538.8" r="9.1" fill="white" stroke="#000" stroke-width="2"/>
<text x="644.1" y="544.0" textLength="11.8" lengthAdjust="spacingAndGlyphs" font-family="Liberation Sans" font-size="14.8" font-weight="normal" stroke="#000" stroke-width="0.6">17</text>
<line x1="642.5" y1="542.5" x2="621.0" y2="549.5" stroke="#000" stroke-width="2" stroke-linecap="round"/>
<ellipse cx="489.4" cy="557.5" rx="4.4" ry="6.3" fill="#000" stroke="#000" stroke-width="1" transform="rotate(0 489.4 557.5)"/>
<ellipse cx="489.4" cy="557.5" rx="1.0" ry="1.8" fill="#fff" stroke="#000" stroke-width="0" transform="rotate(0 489.4 557.5)"/>
<path d="M504.0,553.5 L509.0,553.5 A8.5,11.5 0 0 1 509.0,576.5 L504.0,576.5 A8.5,11.5 0 0 1 504.0,553.5 Z" fill="white" stroke="#000" stroke-width="2" stroke-linejoin="round" stroke-linecap="round"/>
<ellipse cx="509.0" cy="565.0" rx="8.5" ry="11.5" fill="white" stroke="#000" stroke-width="2" transform="rotate(0 509.0 565.0)"/>
<ellipse cx="509.0" cy="565.5" rx="3.2" ry="4.3" fill="white" stroke="#000" stroke-width="2" transform="rotate(0 509.0 565.5)"/>
<polygon points="521.9,574.7 545.9,580.7 547.1,576.3 523.1,570.3" fill="white" stroke="#000" stroke-width="2" stroke-linejoin="round" />
<polygon points="521.9,574.7 526.8,575.9 527.9,571.5 523.1,570.3" fill="#000" stroke="#000" stroke-width="2" stroke-linejoin="round" />
<ellipse cx="546.5" cy="578.5" rx="3.4" ry="5.8" fill="white" stroke="#000" stroke-width="2" transform="rotate(0 546.5 578.5)"/>
<circle cx="482.5" cy="595.0" r="9.1" fill="white" stroke="#000" stroke-width="2"/>
<text x="476.6" y="600.3" textLength="11.8" lengthAdjust="spacingAndGlyphs" font-family="Liberation Sans" font-size="14.8" font-weight="normal" stroke="#000" stroke-width="0.6">15</text>
<line x1="483.8" y1="586.0" x2="488.8" y2="564.0" stroke="#000" stroke-width="2" stroke-linecap="round"/>
<circle cx="513.8" cy="611.2" r="9.1" fill="white" stroke="#000" stroke-width="2"/>
<text x="507.9" y="616.5" textLength="11.8" lengthAdjust="spacingAndGlyphs" font-family="Liberation Sans" font-size="14.8" font-weight="normal" stroke="#000" stroke-width="0.6">16</text>
<line x1="511.0" y1="602.0" x2="506.0" y2="577.0" stroke="#000" stroke-width="2" stroke-linecap="round"/>
<circle cx="548.8" cy="610.0" r="9.1" fill="white" stroke="#000" stroke-width="2"/>
<text x="542.9" y="615.3" textLength="11.8" lengthAdjust="spacingAndGlyphs" font-family="Liberation Sans" font-size="14.8" font-weight="normal" stroke="#000" stroke-width="0.6">17</text>
<line x1="546.0" y1="601.0" x2="537.5" y2="579.0" stroke="#000" stroke-width="2" stroke-linecap="round"/>
<path d="M455,573 Q455,568.75 460.5,568.75 Q466.25,568.75 466.25,573 L466.25,582 Q466.25,586.25 460.5,586.25 Q455,586.25 455,582 Z" fill="#000" stroke="#000" stroke-width="2.1" stroke-linejoin="round" stroke-linecap="round"/>
<circle cx="426.2" cy="592.5" r="9.1" fill="white" stroke="#000" stroke-width="2"/>
<text x="420.4" y="597.8" textLength="11.8" lengthAdjust="spacingAndGlyphs" font-family="Liberation Sans" font-size="14.8" font-weight="normal" stroke="#000" stroke-width="0.6">19</text>
<line x1="435.0" y1="585.0" x2="455.0" y2="579.0" stroke="#000" stroke-width="2" stroke-linecap="round"/>
<polygon points="455.0,579.0 449.9,582.8 448.6,578.6" fill="#000"/>
<polygon points="451.0,614.0 455.0,612.5 467.5,614.0 467.5,637.5 463.0,638.5 451.0,636.0" fill="white" stroke="#000" stroke-width="2.1" stroke-linejoin="round" />
<line x1="451.0" y1="614.0" x2="463.0" y2="616.0" stroke="#000" stroke-width="1.3" stroke-linecap="round"/>
<line x1="463.0" y1="616.0" x2="467.5" y2="614.0" stroke="#000" stroke-width="1.3" stroke-linecap="round"/>
<line x1="463.0" y1="616.0" x2="463.0" y2="638.5" stroke="#000" stroke-width="1.3" stroke-linecap="round"/>
<ellipse cx="465.0" cy="622.0" rx="1.2" ry="3.0" fill="white" stroke="#000" stroke-width="1.2" transform="rotate(0 465.0 622.0)"/>
<circle cx="430.0" cy="633.8" r="9.1" fill="white" stroke="#000" stroke-width="2"/>
<text x="424.1" y="639.0" textLength="11.8" lengthAdjust="spacingAndGlyphs" font-family="Liberation Sans" font-size="14.8" font-weight="normal" stroke="#000" stroke-width="0.6">20</text>
<line x1="438.8" y1="626.0" x2="452.5" y2="622.5" stroke="#000" stroke-width="2" stroke-linecap="round"/>
<polygon points="452.5,622.5 447.2,626.1 446.1,621.8" fill="#000"/>
<polygon points="580.0,593.4 624.1,582.2 624.8,592.3 630.6,596.7 630.6,599.5 585.8,611.8 580.0,606.0" fill="white" stroke="#000" stroke-width="2.2" stroke-linejoin="round" />
<line x1="580.0" y1="593.4" x2="624.1" y2="582.2" stroke="#000" stroke-width="3" stroke-linecap="round"/>
<line x1="581.5" y1="603.5" x2="624.8" y2="592.3" stroke="#000" stroke-width="1.6" stroke-linecap="round"/>
<line x1="584.0" y1="609.5" x2="630.0" y2="597.5" stroke="#000" stroke-width="2.4" stroke-linecap="round"/>
<line x1="590.5" y1="595.0" x2="590.5" y2="601.0" stroke="#000" stroke-width="1.6" stroke-linecap="round"/>
<line x1="615.4" y1="588.0" x2="615.4" y2="594.0" stroke="#000" stroke-width="1.6" stroke-linecap="round"/>
<circle cx="653.8" cy="573.2" r="9.1" fill="white" stroke="#000" stroke-width="2"/>
<text x="647.9" y="578.5" textLength="11.8" lengthAdjust="spacingAndGlyphs" font-family="Liberation Sans" font-size="14.8" font-weight="normal" stroke="#000" stroke-width="0.6">18</text>
<line x1="645.0" y1="575.5" x2="625.0" y2="586.0" stroke="#000" stroke-width="2" stroke-linecap="round"/>
<rect x="147" y="580" width="196" height="100" fill="white" stroke="#000" stroke-width="2.4"/>
<polygon points="197.5,587.5 287.5,616.2 287.0,620.0 265.0,623.8 198.8,601.2" fill="white" stroke="#000" stroke-width="2.1" stroke-linejoin="round" />
<line x1="197.5" y1="587.5" x2="287.5" y2="616.2" stroke="#000" stroke-width="2.6" stroke-linecap="round"/>
<circle cx="203.8" cy="596.2" r="2.0" fill="white" stroke="#000" stroke-width="1.3"/>
<polygon points="158.8,600.0 247.5,630.0 232.5,636.0 226.2,636.2 160.0,613.8" fill="white" stroke="#000" stroke-width="2.1" stroke-linejoin="round" />
<line x1="158.8" y1="600.0" x2="247.5" y2="630.0" stroke="#000" stroke-width="2.6" stroke-linecap="round"/>
<circle cx="165.0" cy="608.8" r="2.0" fill="white" stroke="#000" stroke-width="1.3"/>
<polygon points="307.5,602.5 322.5,601.2 322.5,612.0 307.5,614.0" fill="white" stroke="#000" stroke-width="2.1" stroke-linejoin="round" />
<ellipse cx="315.0" cy="602.0" rx="7.5" ry="2.2" fill="white" stroke="#000" stroke-width="2.1" transform="rotate(0 315.0 602.0)"/>
<polygon points="225.0,630.0 232.5,628.8 232.5,652.5 225.0,650.0" fill="white" stroke="#000" stroke-width="2.1" stroke-linejoin="round" />
<polygon points="231.2,637.5 328.8,606.2 330.0,623.8 232.5,653.8" fill="white" stroke="#000" stroke-width="2.1" stroke-linejoin="round" />
<line x1="231.2" y1="637.5" x2="328.8" y2="606.2" stroke="#000" stroke-width="2.4" stroke-linecap="round"/>
<ellipse cx="240.0" cy="643.8" rx="2.2" ry="3.2" fill="white" stroke="#000" stroke-width="1.5" transform="rotate(0 240.0 643.8)"/>
<ellipse cx="322.0" cy="617.5" rx="2.2" ry="3.2" fill="white" stroke="#000" stroke-width="1.5" transform="rotate(0 322.0 617.5)"/>
<circle cx="306.2" cy="645.0" r="9.1" fill="white" stroke="#000" stroke-width="2"/>
<text x="300.4" y="650.3" textLength="11.8" lengthAdjust="spacingAndGlyphs" font-family="Liberation Sans" font-size="14.8" font-weight="normal" stroke="#000" stroke-width="0.6">22</text>
<text x="155.7" y="672.3" textLength="83.5" lengthAdjust="spacingAndGlyphs" font-family="Liberation Sans" font-size="13" font-weight="normal" stroke="#000" stroke-width="0.55">TELESCOPING</text>
<text x="248.3" y="672.3" textLength="25.2" lengthAdjust="spacingAndGlyphs" font-family="Liberation Sans" font-size="13" font-weight="normal" stroke="#000" stroke-width="0.55">END</text>
<text x="282.6" y="672.3" textLength="51.4" lengthAdjust="spacingAndGlyphs" font-family="Liberation Sans" font-size="13" font-weight="normal" stroke="#000" stroke-width="0.55">SECTION</text>
</svg>
</body></html>
